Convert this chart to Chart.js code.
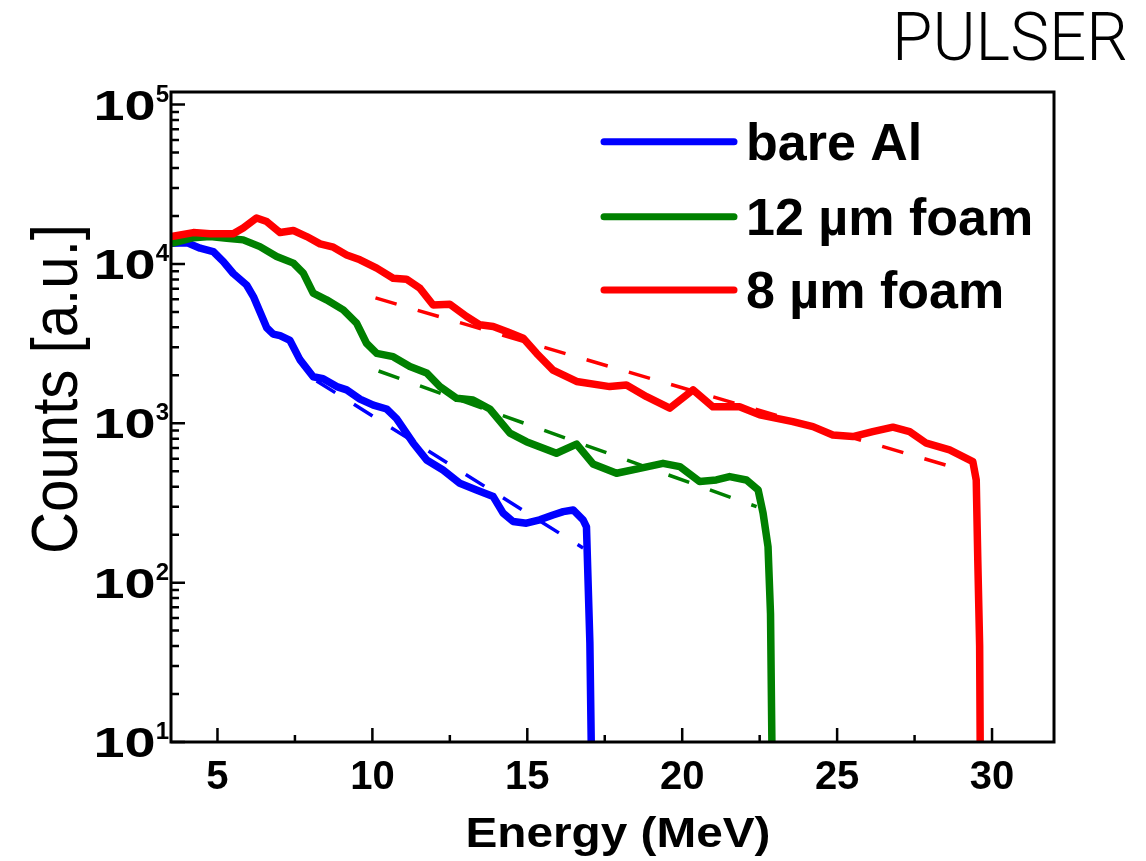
<!DOCTYPE html>
<html>
<head>
<meta charset="utf-8">
<script src="https://cdn.jsdelivr.net/npm/chart.js@4.4.0/dist/chart.umd.min.js"></script>
<style>
html,body{margin:0;padding:0;background:#ffffff;}
canvas{display:block;}
</style>
</head>
<body>
<canvas id="c" width="1146" height="861" style="width:1146px;height:861px"></canvas>
<script>
// ---- data ----
const seriesLabels = ['bare Al', '12 \u00b5m foam', '8 \u00b5m foam'];
const seriesColors = ['#0000ff', '#008000', '#ff0000'];

const bareAlEnergy = [3.52,4.01,4.44,4.86,5.19,5.51,5.94,6.16,6.37,6.59,6.8,7.02,7.34,7.66,8.09,8.41,8.85,9.17,9.6,10.03,10.46,10.78,11.32,11.75,12.28,12.82,13.36,13.9,14.22,14.54,14.97,15.4,15.83,16.16,16.48,16.8,16.91,16.96,17.02,17.07];
const bareAlCounts = [13490,13610,12560,11970,10350,8710,7380,6240,5010,3980,3630,3550,3310,2510,1960,1905,1700,1620,1420,1300,1230,1070,750,589,509,421,382,347,273,242,236,248,266,279,286,248,224,104,41.7,8];

const foam12Energy = [3.52,4.22,4.76,5.3,5.83,6.37,6.91,7.45,7.77,8.09,8.52,9.06,9.49,9.81,10.14,10.67,11.21,11.75,12.18,12.72,13.25,13.79,14.44,14.97,15.94,16.59,17.12,17.88,18.63,19.38,19.92,20.56,21.1,21.53,22.07,22.45,22.61,22.77,22.85,22.9];
const foam12Counts = [13490,14620,14860,14520,14160,12850,11140,10120,8750,6560,5960,5150,4250,3180,2750,2620,2270,2070,1700,1435,1400,1230,867,767,649,741,556,486,522,561,535,431,441,463,441,382,273,168,64,8];

const foam8Energy = [3.52,4.22,4.76,5.51,5.83,6.26,6.59,7.02,7.45,7.88,8.31,8.74,9.17,9.6,10.14,10.67,11.1,11.53,11.96,12.5,13.04,13.47,13.9,14.33,14.87,15.3,15.83,16.59,17.66,18.2,18.85,19.6,20.35,20.99,21.85,22.5,23.57,24.22,24.86,25.51,26.15,26.8,27.34,27.88,28.63,29.38,29.49,29.54,29.6,29.62];
const foam8Counts = [14860,15740,15450,15450,16790,19410,18450,15740,16220,14860,13370,12740,11400,10620,9420,8130,8020,7050,5530,5580,4680,4150,4050,3770,3420,2750,2160,1830,1700,1740,1470,1245,1620,1270,1270,1130,1025,953,845,826,887,946,887,750,681,575,441,139,40,8];

// exponential fits (dashed), end points
const bareAlFitEnergy = [8.2, 16.8];
const bareAlFitCounts = [1845, 165];
const foam12FitEnergy = [10.2, 22.4];
const foam12FitCounts = [2130, 300];
const foam8FitEnergy = [10.1, 29.0];
const foam8FitCounts = [6120, 513];

// axis ticks
const xTickValues = [5, 10, 15, 20, 25, 30];
const xMinorTickValues = [7.5, 12.5, 17.5, 22.5, 27.5];
const yDecadeValues = [10, 100, 1000, 10000, 100000];
const yMinorMultipliers = [2, 3, 4, 5, 6, 7, 8, 9];

const xTitle = 'Energy (MeV)';
const yTitle = 'Counts [a.u.]';
const cornerLabel = 'PULSER';

// ---- build datasets ----
function pts(xs, ys) { return xs.map((v, i) => ({x: v, y: ys[i]})); }

function solid(label, color, xs, ys, order) {
  return {label, data: pts(xs, ys), borderColor: color, backgroundColor: color,
    borderWidth: 7.5, pointRadius: 0, tension: 0, fill: false,
    borderJoinStyle: 'round', borderCapStyle: 'butt', order};
}
function dashed(label, color, xs, ys, order) {
  return {label, data: pts(xs, ys), borderColor: color, backgroundColor: color,
    borderWidth: 3.5, borderDash: [22, 22], pointRadius: 0, tension: 0, fill: false,
    borderCapStyle: 'butt', order};
}

const datasets = [
  dashed(seriesLabels[2] + ' fit', seriesColors[2], foam8FitEnergy, foam8FitCounts, -1),
  dashed(seriesLabels[1] + ' fit', seriesColors[1], foam12FitEnergy, foam12FitCounts, -1),
  dashed(seriesLabels[0] + ' fit', seriesColors[0], bareAlFitEnergy, bareAlFitCounts, -1),
  solid(seriesLabels[2], seriesColors[2], foam8Energy, foam8Counts, 0),
  solid(seriesLabels[1], seriesColors[1], foam12Energy, foam12Counts, 1),
  solid(seriesLabels[0], seriesColors[0], bareAlEnergy, bareAlCounts, 2)
];

const FONT = '"Liberation Sans", Arial, Helvetica, sans-serif';

function fitText(ctx, text, x, y, targetW, align) {
  const w = ctx.measureText(text).width;
  ctx.save();
  ctx.translate(x, y);
  ctx.scale(targetW / w, 1);
  ctx.textAlign = align;
  ctx.fillText(text, 0, 0);
  ctx.restore();
}

const decorPlugin = {
  id: 'decor',
  afterDraw(chart) {
    const ctx = chart.ctx;
    const a = chart.chartArea;
    const xs = chart.scales.x, ys = chart.scales.y;
    ctx.save();
    ctx.fillStyle = '#000';
    ctx.strokeStyle = '#000';

    // frame
    ctx.lineWidth = 3;
    ctx.strokeRect(a.left, a.top, a.right - a.left, a.bottom - a.top);

    // x ticks (inward)
    ctx.lineWidth = 2.5;
    ctx.beginPath();
    xTickValues.forEach(v => { const p = xs.getPixelForValue(v); ctx.moveTo(p, a.bottom); ctx.lineTo(p, a.bottom - 14); });
    xMinorTickValues.forEach(v => { const p = xs.getPixelForValue(v); ctx.moveTo(p, a.bottom); ctx.lineTo(p, a.bottom - 7); });
    // y ticks (inward)
    yDecadeValues.forEach(d => {
      const p = ys.getPixelForValue(d);
      ctx.moveTo(a.left, p); ctx.lineTo(a.left + 14, p);
      yMinorMultipliers.forEach(m => {
        const v = d * m;
        if (v < ys.max) { const q = ys.getPixelForValue(v); ctx.moveTo(a.left, q); ctx.lineTo(a.left + 8, q); }
      });
    });
    ctx.stroke();

    // x tick labels
    ctx.font = 'bold 40px ' + FONT;
    ctx.textAlign = 'center';
    ctx.textBaseline = 'alphabetic';
    xTickValues.forEach(v => ctx.fillText(String(v), xs.getPixelForValue(v), a.bottom + 47));

    // y tick labels 10^n
    yDecadeValues.forEach(d => {
      const p = ys.getPixelForValue(d);
      const e = String(Math.round(Math.log10(d)));
      ctx.font = 'bold 24px ' + FONT;
      ctx.textAlign = 'right';
      ctx.fillText(e, a.left - 2, p - 3);
      const sw = ctx.measureText(e).width;
      ctx.save();
      ctx.translate(a.left - 2 - sw, p + 15);
      ctx.scale(1.33, 1);
      ctx.font = 'bold 42px ' + FONT;
      ctx.textAlign = 'right';
      ctx.fillText('10', 0, 0);
      ctx.restore();
    });

    // x title
    ctx.font = 'bold 42px ' + FONT;
    fitText(ctx, xTitle, 618, 847, 305, 'center');

    // y title (rotated)
    ctx.save();
    ctx.translate(77, 389);
    ctx.rotate(-Math.PI / 2);
    ctx.font = '64px ' + FONT;
    fitText(ctx, yTitle, 0, 0, 330, 'center');
    ctx.restore();

    // corner label
    ctx.font = '300 66px Roboto, Inter, "Open Sans", sans-serif';
    fitText(ctx, cornerLabel, 1128, 60, 236, 'right');

    // legend
    const rowsY = [141.7, 216.7, 290];
    [0, 1, 2].forEach(i => {
      const yy = rowsY[i];
      ctx.strokeStyle = seriesColors[i];
      ctx.lineWidth = 7;
      ctx.lineCap = 'round';
      ctx.beginPath(); ctx.moveTo(604, yy); ctx.lineTo(734, yy); ctx.stroke();
      ctx.fillStyle = '#000';
      ctx.font = 'bold 52px ' + FONT;
      ctx.textAlign = 'left';
      ctx.fillText(seriesLabels[i], 746, yy + 18);
    });
    ctx.restore();
  }
};

new Chart(document.getElementById('c').getContext('2d'), {
  type: 'line',
  data: {datasets},
  options: {
    responsive: false,
    animation: false,
    devicePixelRatio: 1,
    layout: {padding: {left: 171, top: 92, right: 92, bottom: 119}},
    scales: {
      x: {type: 'linear', min: 3.5, max: 32, display: false},
      y: {type: 'logarithmic', min: 10, max: 120000, display: false}
    },
    plugins: {legend: {display: false}, tooltip: {enabled: false}},
    elements: {point: {radius: 0}}
  },
  plugins: [decorPlugin]
});
</script>
</body>
</html>
